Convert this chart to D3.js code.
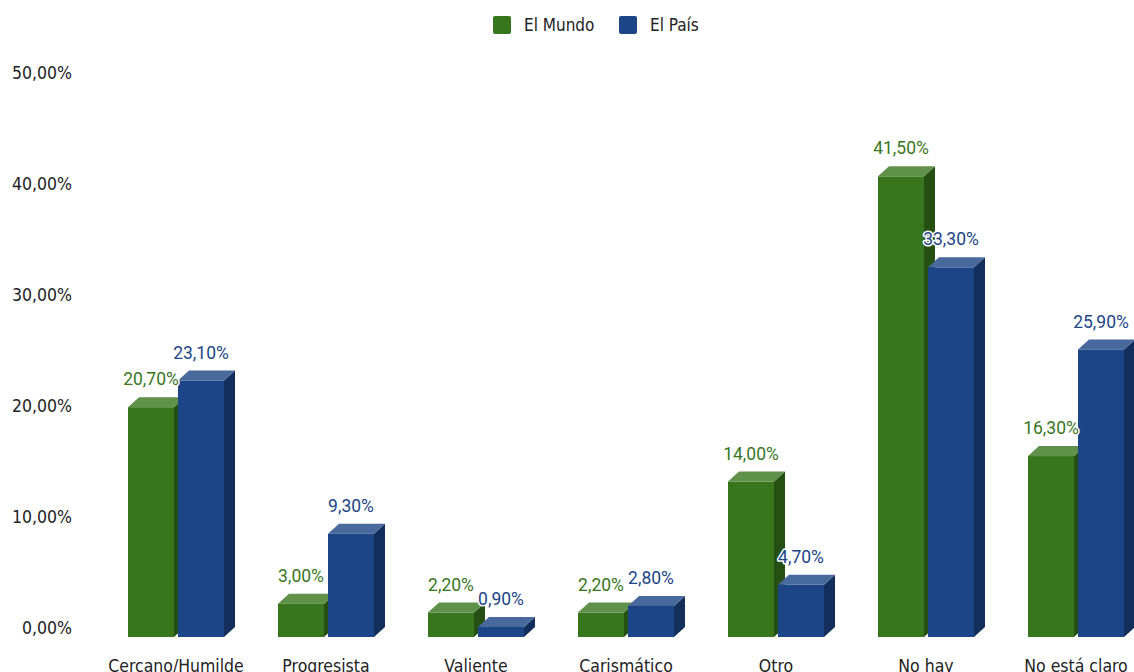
<!DOCTYPE html>
<html><head><meta charset="utf-8">
<script src="https://cdn.jsdelivr.net/npm/d3@7"></script>
<style>body{margin:0;background:#fff}svg{display:block}</style>
</head><body>
<svg id="c" width="1134" height="672"></svg>
<script>
const categories = ["Cercano/Humilde","Progresista","Valiente","Carismático","Otro","No hay","No está claro"];
const seriesNames = ["El Mundo","El País"];
const elMundo = [20.7, 3.0, 2.2, 2.2, 14.0, 41.5, 16.3];
const elPais = [23.1, 9.3, 0.9, 2.8, 4.7, 33.3, 25.9];
const yTicks = [0, 10, 20, 30, 40, 50];
const colors = {
  "El Mundo": {front:"#38761d", top:"#5f914a", side:"#264f14"},
  "El País": {front:"#1c4587", top:"#48699c", side:"#132e5a"}
};
const seriesValues = {"El Mundo": elMundo, "El País": elPais};

const svg = d3.select("#c");
const locale = d3.formatLocale({decimal:",", thousands:".", grouping:[3], currency:["","€"]});
const f2 = locale.format(".2f");
const fmt = v => f2(v) + "%";

const y = d3.scaleLinear().domain([0, 50]).range([627, 72]);
const x = d3.scaleBand().domain(categories).range([101, 1151]).padding(0);
const x1 = d3.scaleBand().domain(seriesNames).range([27, 123]).paddingInner(0.08);
const dx = 11, dy = 10;

// y axis
const yAxis = svg.append("g").attr("transform","translate(72,0)")
  .call(d3.axisLeft(y).tickValues(yTicks).tickFormat(fmt).tickSize(0).tickPadding(0));
yAxis.select(".domain").remove();
yAxis.selectAll("text").attr("font-family","'DejaVu Sans Condensed', 'DejaVu Sans'").attr("font-size","17.5px").attr("fill","#222").attr("dy","0.35em");

// x axis
const xAxis = svg.append("g").attr("transform","translate(0,655)")
  .call(d3.axisBottom(x).tickSize(0).tickPadding(0));
xAxis.select(".domain").remove();
xAxis.selectAll("text").attr("font-family","'DejaVu Sans Condensed', 'DejaVu Sans'").attr("font-size","17.5px").attr("fill","#222").attr("dy","0.95em");

// bars
const bars = svg.append("g");
const labels = [];
categories.forEach((cat, i) => {
  seriesNames.forEach(s => {
    const v = seriesValues[s][i];
    const X = x(cat) + x1(s), w = x1.bandwidth();
    const yv = y(v), y0 = y(0);
    const c = colors[s];
    const g = bars.append("g");
    g.append("polygon").attr("fill", c.side)
      .attr("points", [[X+w, yv+dy],[X+w+dx, yv],[X+w+dx, y0],[X+w, y0+dy]].join(" "));
    g.append("polygon").attr("fill", c.top)
      .attr("points", [[X, yv+dy],[X+dx, yv],[X+w+dx, yv],[X+w, yv+dy]].join(" "));
    g.append("rect").attr("fill", c.front)
      .attr("x", X).attr("y", yv+dy).attr("width", w).attr("height", y0 - yv);
    labels.push({x: X + w/2, y: yv - 12, t: fmt(v), c: c.front});
  });
});
svg.append("g").selectAll("text").data(labels).join("text")
  .attr("x", d => d.x).attr("y", d => d.y).attr("text-anchor","middle")
  .attr("font-family","Roboto, 'Liberation Sans', sans-serif").attr("font-size","17.5px")
  .attr("fill", d => d.c).attr("stroke","#fff").attr("stroke-width",3)
  .attr("stroke-linejoin","round").attr("paint-order","stroke")
  .text(d => d.t);

// legend
const legend = svg.append("g");
const lx = [493, 619];
seriesNames.forEach((s, i) => {
  legend.append("rect").attr("x", lx[i]).attr("y", 16).attr("width", 18).attr("height", 18)
    .attr("rx", 2).attr("fill", colors[s].front);
  legend.append("text").attr("x", lx[i] + 31).attr("y", 25).attr("dy","0.35em")
    .attr("font-family","'DejaVu Sans Condensed', 'DejaVu Sans'").attr("font-size","17px").attr("fill","#222")
    .text(s);
});
</script>
</body></html>
